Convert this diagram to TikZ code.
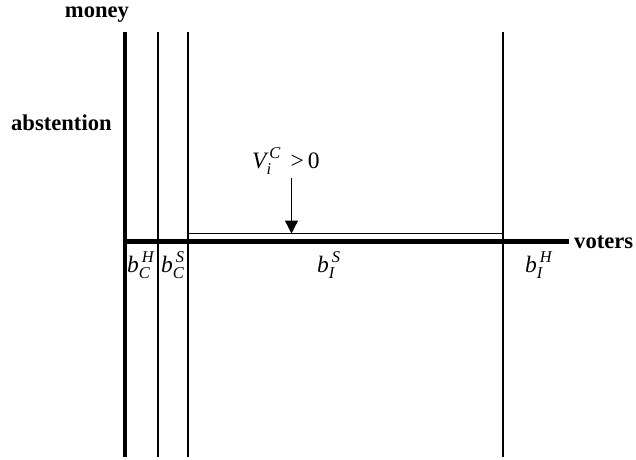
\documentclass[tikz,border=0pt]{standalone}
\usepackage{amsmath}
\usepackage{fontspec}
\setmainfont{Liberation Serif}
\usetikzlibrary{arrows.meta}
\tikzset{
  thinline/.style={line width=1.3pt},
  thickline/.style={line width=4.6pt},
  axislabel/.style={font=\fontsize{22.6}{26}\selectfont\bfseries, inner sep=0pt},
  mlabel/.style={font=\fontsize{23.5}{27}\selectfont, inner sep=0pt},
}
\begin{document}
\begin{tikzpicture}[x=1pt,y=-1pt]
\useasboundingbox (0,0) rectangle (636,459);
% coordinates
\coordinate (vt) at (125,32);
\coordinate (vb) at (125,457);
\coordinate (o) at (125,241.5);
\coordinate (xe) at (569,241.5);
\coordinate (l1t) at (158,32);
\coordinate (l1b) at (158,457);
\coordinate (l2t) at (188,32);
\coordinate (l2b) at (188,457);
\coordinate (l3t) at (503,32);
\coordinate (l3b) at (503,457);
\coordinate (rtl) at (188,233.5);
\coordinate (rbr) at (503,241.5);
% thin verticals
\draw[thinline] (l1t) -- (l1b);
\draw[thinline] (l2t) -- (l2b);
\draw[thinline] (l3t) -- (l3b);
% rectangle
\draw[thinline] (rtl) rectangle (rbr);
% thick axes
\draw[thickline] (vt) -- (vb);
\draw[thickline] (o) -- (xe);
% labels
\node[axislabel, anchor=base] (money) at (97,17.5) {money};
\node[axislabel, anchor=base west] (abst) at (11,130) {abstention};
\node[axislabel, anchor=base west] (voters) at (574,248) {voters};
\node[mlabel, anchor=base west] (v) at (252,168) {$\textit{V}^{\,\textit{C}}_{\textit{i}}$\, >\,0};
\coordinate (at) at (291.5,178);
\coordinate (ah) at (291.5,233.5);
\draw[thinline, -{Triangle[width=13pt,length=13pt]}] (at) -- (ah);
\node[mlabel, anchor=base west] (bch) at (127,272) {$\textit{b}^{\,\textit{H}}_{\textit{C}}$};
\node[mlabel, anchor=base west] (bcs) at (161,272) {$\textit{b}^{\,\textit{S}}_{\textit{C}}$};
\node[mlabel, anchor=base west] (bis) at (317,272) {$\textit{b}^{\,\textit{S}}_{\textit{I}}$};
\node[mlabel, anchor=base west] (bih) at (525,272) {$\textit{b}^{\,\textit{H}}_{\textit{I}}$};
\end{tikzpicture}
\end{document}
